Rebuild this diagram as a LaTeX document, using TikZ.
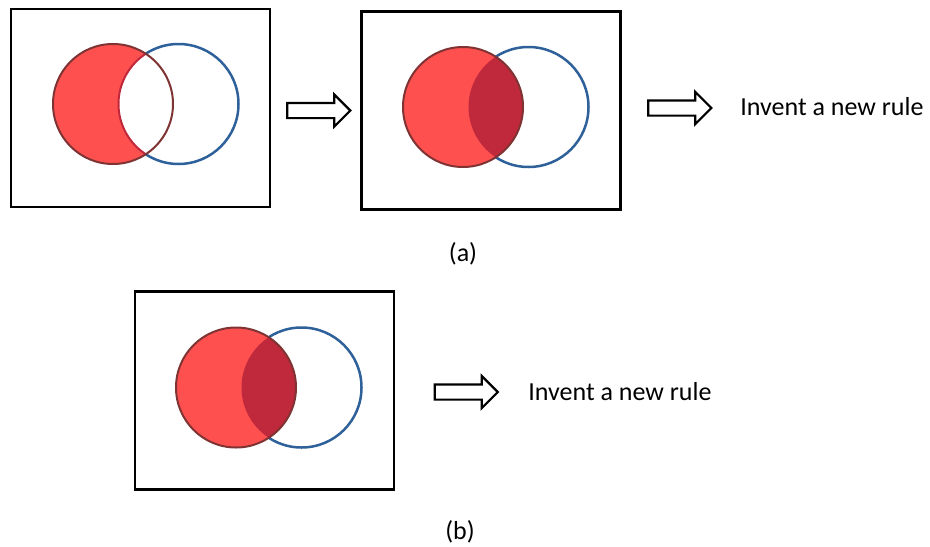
\documentclass[tikz,border=0pt]{standalone}
\usepackage{fontspec}
\setmainfont{Carlito}
\usetikzlibrary{shapes.arrows}

\definecolor{vennred}{HTML}{FF5050}
\definecolor{venndark}{HTML}{C0283C}
\definecolor{vennedge}{HTML}{7F3333}
\definecolor{vennblue}{HTML}{2E6099}

\begin{document}
\begin{tikzpicture}[
  x=0.5pt, y=-0.5pt,
  font=\fontsize{13}{15}\selectfont,
  panel/.style={draw, line width=1.1pt, minimum width=129.5pt, minimum height=99pt, inner sep=0pt},
  fat/.style={single arrow, draw, line width=1.1pt, minimum height=31.5pt, minimum width=15pt,
              single arrow head extend=4.25pt, inner xsep=0pt, inner ysep=3.25pt},
  lbl/.style={inner sep=0pt},
  setA/.style={draw=vennedge, line width=1pt},
  setB/.style={draw=vennblue, line width=1.25pt},
]
\useasboundingbox (0,0) rectangle (930,546);

% ---------- panels ----------
\node[panel] (p1) at (140.5,108) {};
\node[panel] (p2) at (491,110.5) {};
\node[panel] (p3) at (264.5,390.5) {};

\coordinate (a1) at (113,104);   \coordinate (b1) at (178.5,104);
\coordinate (a2) at (463,107);   \coordinate (b2) at (528.5,107);
\coordinate (a3) at (236,387.5); \coordinate (b3) at (301.5,387.5);

% ---------- first venn: A minus B ----------
\draw[setB] (b1) circle[radius=30pt];
\fill[vennred] (a1) circle[radius=30pt];
\begin{scope}
  \clip (a1) circle[radius=30pt];
  \fill[white] (b1) circle[radius=30pt];
  \draw[venndark, line width=1pt] (b1) circle[radius=30pt];
\end{scope}
\draw[setA] (a1) circle[radius=30pt];

% ---------- other venns: A and B ----------
\foreach \a/\b in {a2/b2,a3/b3} {
  \draw[setB] (\b) circle[radius=30pt];
  \fill[vennred] (\a) circle[radius=30pt];
  \begin{scope}
    \clip (\a) circle[radius=30pt];
    \fill[venndark] (\b) circle[radius=30pt];
  \end{scope}
  \draw[setA] (\a) circle[radius=30pt];
}

% ---------- arrows and text ----------
\node[fat] (f1) at (315,110.5) {};
\node[fat] (f2) at (676,108) {};
\node[fat] (f3) at (462.5,392) {};
\node[lbl, anchor=west] (r1) at (740,107) {Invent a new rule};
\node[lbl, anchor=west] (r2) at (528,392) {Invent a new rule};

\node[lbl] (ca) at (463,254) {(a)};
\node[lbl] (cb) at (460,532) {(b)};

\end{tikzpicture}
\end{document}
